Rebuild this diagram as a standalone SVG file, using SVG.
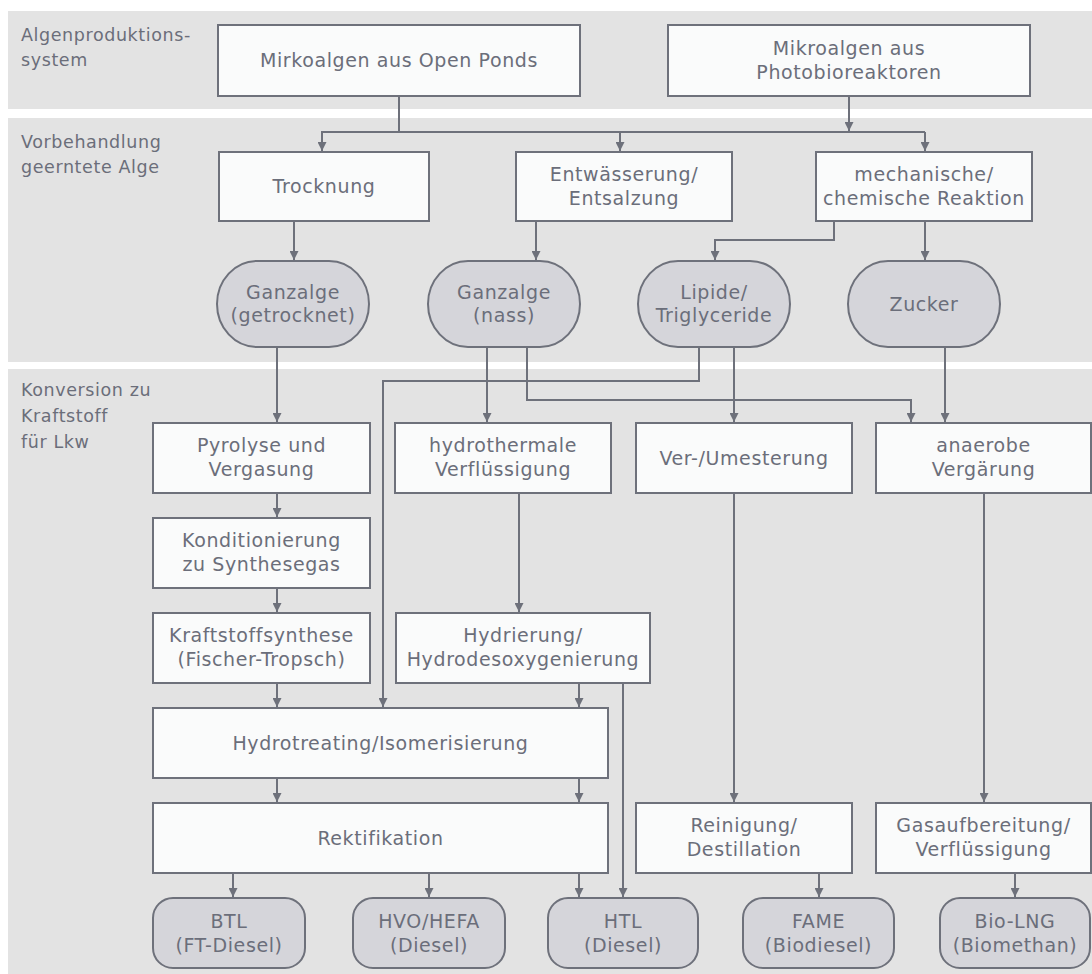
<svg xmlns="http://www.w3.org/2000/svg" width="1092" height="974" viewBox="0 0 1092 974">
<defs>
<style>
.band{fill:#e3e3e3}
.box{fill:#fafbfb;stroke:#6e717b;stroke-width:2}
.pill{fill:#d5d5da;stroke:#6e717b;stroke-width:2}
.t{font-family:"DejaVu Sans",sans-serif;font-size:19px;fill:#6b6e7a;text-anchor:middle;letter-spacing:0.6px}
.lbl{font-family:"DejaVu Sans",sans-serif;font-size:17.5px;fill:#6b6e7a;letter-spacing:0.6px}
.c{fill:none;stroke:#6e717b;stroke-width:2;marker-end:url(#arr)}
.c0{fill:none;stroke:#6e717b;stroke-width:2}
</style>
<marker id="arr" markerUnits="userSpaceOnUse" markerWidth="10" markerHeight="9" refX="9" refY="4.5" orient="auto">
<path d="M0,0 L9,4.5 L0,9 z" fill="#6e717b"/>
</marker>
</defs>
<g id="bands">
<rect class="band" x="8" y="11" width="1084" height="98"/>
<rect class="band" x="8" y="118" width="1084" height="244"/>
<rect class="band" x="8" y="369" width="1084" height="605"/>
<text class="lbl" x="21" y="41">Algenproduktions-</text>
<text class="lbl" x="21" y="66">system</text>
<text class="lbl" x="21" y="148">Vorbehandlung</text>
<text class="lbl" x="21" y="173">geerntete Alge</text>
<text class="lbl" x="21" y="396">Konversion zu</text>
<text class="lbl" x="21" y="422">Kraftstoff</text>
<text class="lbl" x="21" y="448">für Lkw</text>
</g>
<g id="connectors">
<path class="c0" d="M399,96 V132"/>
<path class="c" d="M925,132 H322 V151"/>
<path class="c" d="M620,132 V151"/>
<path class="c" d="M925,132 V151"/>
<path class="c" d="M849,96 V131"/>
<path class="c" d="M294,221 V260"/>
<path class="c" d="M536,221 V260"/>
<path class="c" d="M834,221 V240 H715 V260"/>
<path class="c" d="M925,221 V260"/>
<path class="c" d="M277,347 V422"/>
<path class="c" d="M487,347 V422"/>
<path class="c" d="M527,347 V400 H911 V422"/>
<path class="c" d="M699,347 V381 H383 V707"/>
<path class="c" d="M734,347 V422"/>
<path class="c" d="M945,347 V422"/>
<path class="c" d="M277,493 V517"/>
<path class="c" d="M277,588 V612"/>
<path class="c" d="M277,683 V707"/>
<path class="c" d="M519,493 V612"/>
<path class="c" d="M579,683 V707"/>
<path class="c" d="M623,683 V897"/>
<path class="c" d="M734,493 V802"/>
<path class="c" d="M984,493 V802"/>
<path class="c" d="M277,778 V802"/>
<path class="c" d="M579,778 V802"/>
<path class="c" d="M233,873 V897"/>
<path class="c" d="M429,873 V897"/>
<path class="c" d="M579,873 V897"/>
<path class="c" d="M819,873 V897"/>
<path class="c" d="M1015,873 V897"/>
</g>
<g id="n_open"><rect class="box" x="218" y="25" width="362" height="71"/><text class="t" x="399" y="67">Mirkoalgen aus Open Ponds</text></g>
<g id="n_photo"><rect class="box" x="668" y="25" width="362" height="71"/><text class="t" x="849" y="55">Mikroalgen aus</text><text class="t" x="849" y="79">Photobioreaktoren</text></g>
<g id="n_trock"><rect class="box" x="219" y="152" width="210" height="69"/><text class="t" x="324" y="193">Trocknung</text></g>
<g id="n_entw"><rect class="box" x="516" y="152" width="216" height="69"/><text class="t" x="624" y="181">Entwässerung/</text><text class="t" x="624" y="205">Entsalzung</text></g>
<g id="n_mech"><rect class="box" x="816" y="152" width="216" height="69"/><text class="t" x="924" y="181">mechanische/</text><text class="t" x="924" y="205">chemische Reaktion</text></g>
<g id="p_getr"><rect class="pill" x="217" y="261" width="152" height="86" rx="40" ry="43"/><text class="t" x="293" y="299">Ganzalge</text><text class="t" x="293" y="322">(getrocknet)</text></g>
<g id="p_nass"><rect class="pill" x="428" y="261" width="152" height="86" rx="40" ry="43"/><text class="t" x="504" y="299">Ganzalge</text><text class="t" x="504" y="322">(nass)</text></g>
<g id="p_lip"><rect class="pill" x="638" y="261" width="152" height="86" rx="40" ry="43"/><text class="t" x="714" y="299">Lipide/</text><text class="t" x="714" y="322">Triglyceride</text></g>
<g id="p_zuck"><rect class="pill" x="848" y="261" width="152" height="86" rx="40" ry="43"/><text class="t" x="924" y="311">Zucker</text></g>
<g id="n_pyro"><rect class="box" x="153" y="423" width="217" height="70"/><text class="t" x="261.5" y="452">Pyrolyse und</text><text class="t" x="261.5" y="476">Vergasung</text></g>
<g id="n_hydroth"><rect class="box" x="395" y="423" width="216" height="70"/><text class="t" x="503" y="452">hydrothermale</text><text class="t" x="503" y="476">Verflüssigung</text></g>
<g id="n_ver"><rect class="box" x="636" y="423" width="216" height="70"/><text class="t" x="744" y="465">Ver-/Umesterung</text></g>
<g id="n_anaer"><rect class="box" x="876" y="423" width="215" height="70"/><text class="t" x="983.5" y="452">anaerobe</text><text class="t" x="983.5" y="476">Vergärung</text></g>
<g id="n_kond"><rect class="box" x="153" y="518" width="217" height="70"/><text class="t" x="261.5" y="547">Konditionierung</text><text class="t" x="261.5" y="571">zu Synthesegas</text></g>
<g id="n_kraft"><rect class="box" x="153" y="613" width="217" height="70"/><text class="t" x="261.5" y="642">Kraftstoffsynthese</text><text class="t" x="261.5" y="666">(Fischer-Tropsch)</text></g>
<g id="n_hydrier"><rect class="box" x="396" y="613" width="254" height="70"/><text class="t" x="523" y="642">Hydrierung/</text><text class="t" x="523" y="666">Hydrodesoxygenierung</text></g>
<g id="n_hydrot"><rect class="box" x="153" y="708" width="455" height="70"/><text class="t" x="380.5" y="750">Hydrotreating/Isomerisierung</text></g>
<g id="n_rekt"><rect class="box" x="153" y="803" width="455" height="70"/><text class="t" x="380.5" y="845">Rektifikation</text></g>
<g id="n_rein"><rect class="box" x="636" y="803" width="216" height="70"/><text class="t" x="744" y="832">Reinigung/</text><text class="t" x="744" y="856">Destillation</text></g>
<g id="n_gas"><rect class="box" x="876" y="803" width="215" height="70"/><text class="t" x="983.5" y="832">Gasaufbereitung/</text><text class="t" x="983.5" y="856">Verflüssigung</text></g>
<g id="p_btl"><rect class="pill" x="153" y="898" width="152" height="70" rx="20"/><text class="t" x="229" y="928">BTL</text><text class="t" x="229" y="952">(FT-Diesel)</text></g>
<g id="p_hvo"><rect class="pill" x="353" y="898" width="152" height="70" rx="20"/><text class="t" x="429" y="928">HVO/HEFA</text><text class="t" x="429" y="952">(Diesel)</text></g>
<g id="p_htl"><rect class="pill" x="548" y="898" width="150" height="70" rx="20"/><text class="t" x="623" y="928">HTL</text><text class="t" x="623" y="952">(Diesel)</text></g>
<g id="p_fame"><rect class="pill" x="743" y="898" width="151" height="70" rx="20"/><text class="t" x="818.5" y="928">FAME</text><text class="t" x="818.5" y="952">(Biodiesel)</text></g>
<g id="p_lng"><rect class="pill" x="940" y="898" width="150" height="70" rx="20"/><text class="t" x="1015" y="928">Bio-LNG</text><text class="t" x="1015" y="952">(Biomethan)</text></g>
</svg>
